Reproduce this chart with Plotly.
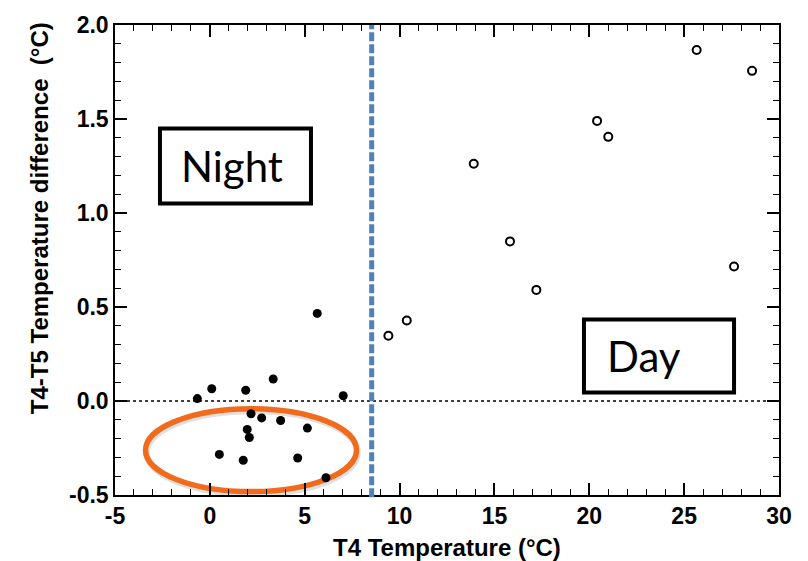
import plotly.graph_objects as go

# Night (filled) points
night_x = [-0.66, 0.10, 1.89, 3.34, 5.66, 7.03, 2.17, 2.73, 3.73, 5.14, 1.97, 2.08, 0.50, 1.76, 4.63, 6.12]
night_y = [0.013, 0.065, 0.057, 0.117, 0.466, 0.028, -0.068, -0.090, -0.104, -0.144, -0.151, -0.194, -0.284, -0.315, -0.303, -0.408]

# Day (open) points
day_x = [9.41, 10.38, 13.91, 15.82, 17.21, 20.41, 21.00, 25.66, 27.63, 28.58]
day_y = [0.347, 0.428, 1.262, 0.849, 0.591, 1.490, 1.405, 1.867, 0.715, 1.756]

x_ticks = [-5, 0, 5, 10, 15, 20, 25, 30]
y_ticks = [-0.5, 0.0, 0.5, 1.0, 1.5, 2.0]
x_range = [-5, 30]
y_range = [-0.5, 2.0]
divider_x = 8.53

fig = go.Figure()
fig.add_trace(go.Scatter(x=night_x, y=night_y, mode="markers",
                         marker=dict(symbol="circle", size=9, color="black"),
                         showlegend=False))
fig.add_trace(go.Scatter(x=day_x, y=day_y, mode="markers",
                         marker=dict(symbol="circle-open", size=8, color="black",
                                     line=dict(width=2, color="black")),
                         showlegend=False))

axis_font = dict(family="Liberation Sans, Arial, sans-serif", size=23, color="black", weight="bold")

fig.update_xaxes(range=x_range, tickvals=x_ticks, ticktext=[str(v) for v in x_ticks],
                 ticks="inside", ticklen=12, tickwidth=1.5, tickcolor="black",
                 minor=dict(dtick=1, ticks="inside", ticklen=6, tickwidth=1, tickcolor="black"),
                 showline=True, linecolor="black", linewidth=1.5, mirror="allticks",
                 showgrid=False, zeroline=False, tickfont=axis_font)
fig.update_yaxes(range=y_range, tickvals=y_ticks, ticktext=[f"{v:.1f}" for v in y_ticks],
                 ticks="inside", ticklen=12, tickwidth=1.5, tickcolor="black",
                 minor=dict(dtick=0.1, tick0=0, ticks="inside", ticklen=6, tickwidth=1, tickcolor="black"),
                 showline=True, linecolor="black", linewidth=1.5, mirror="allticks",
                 showgrid=False, zeroline=False, tickfont=axis_font)

shapes = [
    # dotted zero line
    dict(type="line", xref="x", yref="y", x0=x_range[0], x1=x_range[1], y0=0, y1=0,
         line=dict(color="black", width=1.5, dash="dot")),
    # blue dashed divider
    dict(type="line", xref="x", yref="paper", x0=divider_x, x1=divider_x, y0=-0.005, y1=1,
         line=dict(color="#4F81BD", width=5, dash="9px,3px")),
    # ellipse shadow
    dict(type="circle", xref="x", yref="y", x0=-3.33, x1=7.80, y0=-0.055, y1=-0.496,
         line=dict(color="rgba(0,0,0,0.12)", width=6), layer="below"),
    # orange ellipse
    dict(type="circle", xref="x", yref="y", x0=-3.39, x1=7.73, y0=-0.041, y1=-0.482,
         line=dict(color="#F26B1D", width=5.5), layer="below"),
    # Night box
    dict(type="rect", xref="x", yref="y", x0=-2.63, x1=5.33, y0=1.051, y1=1.450,
         line=dict(color="black", width=4), fillcolor="white", layer="above"),
    # Day box
    dict(type="rect", xref="x", yref="y", x0=19.72, x1=27.63, y0=0.045, y1=0.434,
         line=dict(color="black", width=4), fillcolor="white", layer="above"),
]

label_font = dict(family="Lato, Open Sans, sans-serif", size=42, color="black")
title_font = dict(family="Liberation Sans, Arial, sans-serif", size=24, color="black", weight="bold")

annotations = [
    dict(text="Night", x=1.17, y=1.248, xref="x", yref="y", showarrow=False,
         xanchor="center", yanchor="middle", font=label_font),
    dict(text="Day", x=20.83, y=0.242, xref="x", yref="y", showarrow=False,
         xanchor="left", yanchor="middle", font=label_font),
    dict(text="T4 Temperature (°C)", x=0.5, y=0, xref="paper", yref="paper",
         yshift=-52, showarrow=False, xanchor="center", yanchor="middle", font=title_font),
    dict(text="T4-T5 Temperature difference  (°C)", x=0, y=0.589, xref="paper", yref="paper",
         xshift=-76, showarrow=False, textangle=-90, xanchor="center", yanchor="middle",
         font=title_font),
]

fig.update_layout(width=808, height=561, margin=dict(l=115, r=29, t=13, b=66),
                  paper_bgcolor="white", plot_bgcolor="white",
                  shapes=shapes, annotations=annotations, showlegend=False)

fig.write_html("out.html")
